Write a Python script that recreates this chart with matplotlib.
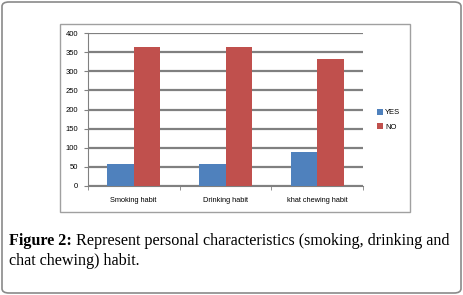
import matplotlib
matplotlib.use("Agg")
import matplotlib.pyplot as plt
from matplotlib.patches import FancyBboxPatch, Rectangle
import numpy as np

categories = ["Smoking habit", "Drinking habit", "khat chewing habit"]
yes_values = [56, 56, 88]
no_values = [364, 364, 332]
series_names = ["YES", "NO"]
yticks = [0, 50, 100, 150, 200, 250, 300, 350, 400]

W, H = 463, 295
fig = plt.figure(figsize=(W/100, H/100), dpi=100)

# outer rounded frame
fig.patches.append(FancyBboxPatch((2/W, 2/H), (W-4)/W, (H-4)/H,
                                  boxstyle="round,pad=0,rounding_size=0.015",
                                  transform=fig.transFigure, fill=False,
                                  edgecolor="#8a8a8a", linewidth=1.2))
# inner chart frame
fig.patches.append(Rectangle((60/W, 1-212/H), 350/W, 188/H, transform=fig.transFigure,
                             fill=False, edgecolor="#a0a0a0", linewidth=1.0))

ax = fig.add_axes([87.7/W, 1-185.7/H, (363.3-87.7)/W, (185.7-33.3)/H])
x = np.arange(len(categories))
bw = 0.286
ax.bar(x - bw/2, yes_values, bw, color="#4F81BD", label=series_names[0], zorder=3)
ax.bar(x + bw/2, no_values, bw, color="#C0504D", label=series_names[1], zorder=3)
ax.set_xlim(-0.5, len(categories) - 0.5)
ax.set_ylim(0, 400)
ax.set_yticks(yticks)
ax.set_yticklabels([str(v) for v in yticks], fontsize=5.5, family="Liberation Sans")
ax.set_xticks(x)
ax.set_xticklabels(categories, fontsize=5.3, family="Liberation Sans")
ax.set_xticks([-0.5, 0.5, 1.5, 2.5], minor=True)
ax.tick_params(axis="x", which="major", length=0, pad=8)
ax.tick_params(axis="x", which="minor", length=3, color="#808080")
ax.tick_params(axis="y", length=3, color="#808080", pad=4)
ax.grid(axis="y", color="#808080", linewidth=1.6, zorder=0)
for s in ["top", "right"]:
    ax.spines[s].set_visible(False)
ax.spines["left"].set_color("#808080")
ax.spines["bottom"].set_color("#808080")

leg = fig.legend(loc="upper left", bbox_to_anchor=(370/W, 1-102/H), frameon=False,
                 prop={"family": "Liberation Sans", "size": 5.5},
                 handlelength=0.8, handleheight=0.8, handletextpad=0.3, labelspacing=0.85)

fs = 11.6
t1 = fig.text(9/W, 1-241/H, "Figure 2:", fontsize=fs, family="Liberation Serif",
              fontweight="bold", va="center")
fig.canvas.draw()
bb = t1.get_window_extent(renderer=fig.canvas.get_renderer())
fig.text((bb.x1 + 4)/W, 1-241/H, "Represent personal characteristics (smoking, drinking and",
         fontsize=fs, family="Liberation Serif", va="center")
fig.text(9/W, 1-261/H, "chat chewing) habit.", fontsize=fs, family="Liberation Serif",
         va="center")

fig.savefig("out.png", dpi=100)
